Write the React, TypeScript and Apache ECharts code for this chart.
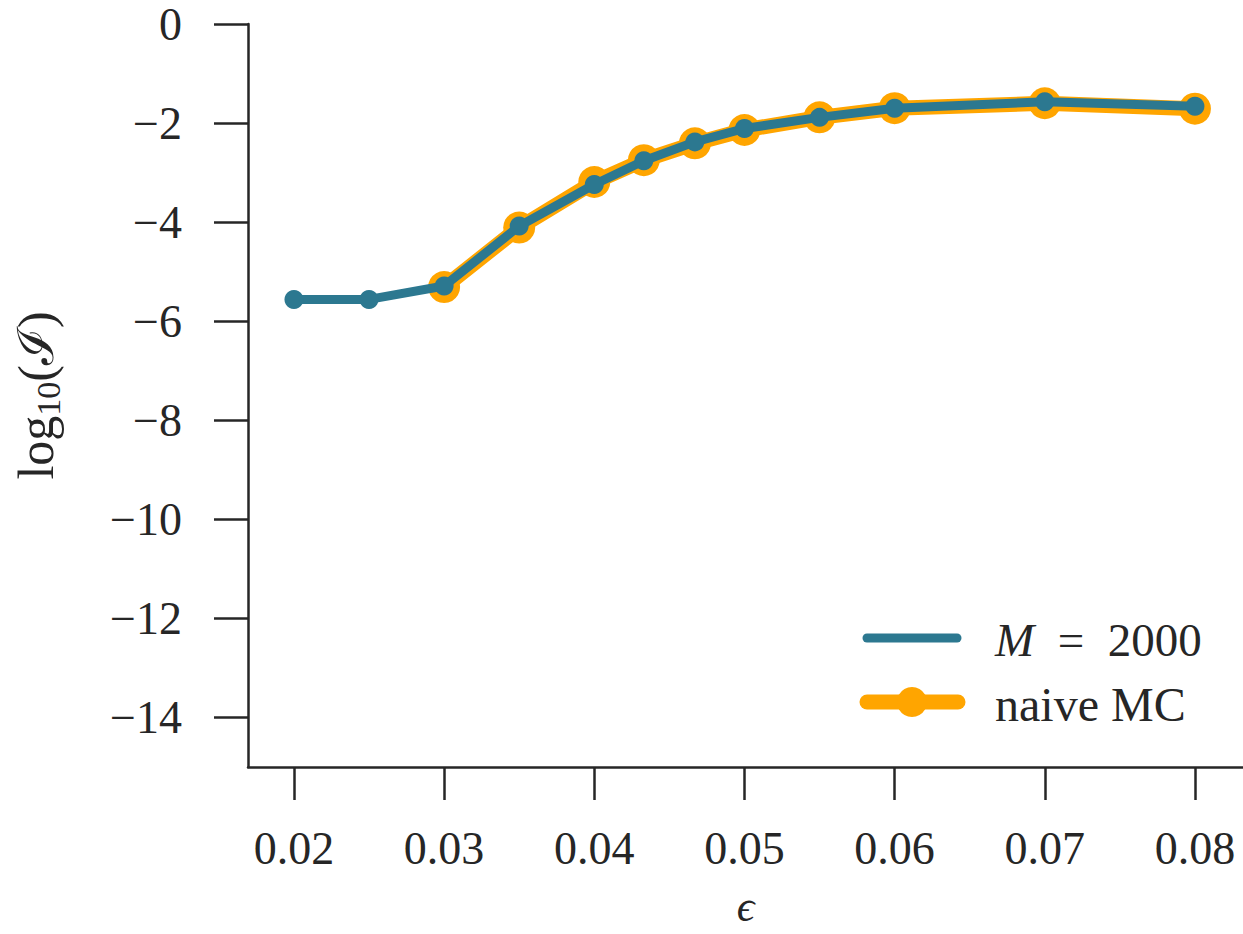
import React, { useEffect, useRef } from "react";
import * as echarts from "echarts";

// epsilon values (x) for each run
const epsM2000 = [0.02, 0.025, 0.03, 0.035, 0.04, 0.0433, 0.0467, 0.05, 0.055, 0.06, 0.07, 0.08];
const logIM2000 = [-5.56, -5.56, -5.29, -4.08, -3.24, -2.76, -2.38, -2.11, -1.885, -1.7, -1.57, -1.66];

const epsNaive = [0.03, 0.035, 0.04, 0.0433, 0.0467, 0.05, 0.055, 0.06, 0.07, 0.08];
const logINaive = [-5.31, -4.11, -3.19, -2.75, -2.41, -2.14, -1.885, -1.7, -1.6, -1.71];

const xTicks = [0.02, 0.03, 0.04, 0.05, 0.06, 0.07, 0.08];
const yTicks = [-14, -12, -10, -8, -6, -4, -2, 0];

const TEAL = "#2c7890";
const ORANGE = "#ffa500";
const INK = "#262626";
const FONT = "'Liberation Serif', 'DejaVu Serif', serif";

const zip = (xs: number[], ys: number[]) => xs.map((x, i) => [x, ys[i]]);

export default function App() {
  const ref = useRef<HTMLDivElement>(null);

  useEffect(() => {
    document.body.style.margin = "0";
    if (!ref.current) return;
    const chart = echarts.init(ref.current, undefined, { renderer: "svg" });

    const fmtY = (v: number) => (v < 0 ? "\u2212" + Math.abs(v) : String(v));

    chart.setOption({
      animation: false,
      backgroundColor: "#ffffff",
      grid: {
        left: 248,
        right: 0,
        top: 24,
        bottom: 167,
        containLabel: false,
        outerBoundsMode: "none",
      },
      xAxis: {
        type: "value",
        min: 0.01694,
        max: 0.0832,
        name: "\u03f5",
        nameLocation: "middle",
        nameGap: 117,
        nameTextStyle: {
          fontFamily: FONT,
          fontSize: 44,
          lineHeight: 44,
          color: INK,
          fontStyle: "italic",
        },
        axisLine: { show: true, onZero: false, lineStyle: { color: INK, width: 2.5 } },
        axisTick: {
          show: true,
          customValues: xTicks,
          length: 33,
          inside: false,
          lineStyle: { color: INK, width: 2.5 },
        },
        axisLabel: {
          customValues: xTicks,
          formatter: (v: number) => v.toFixed(2),
          fontFamily: FONT,
          fontSize: 46,
          color: INK,
          margin: 58,
        },
        splitLine: { show: false },
      },
      yAxis: {
        type: "value",
        min: -15,
        max: 0,
        name: "{a|log}{s|10}{a|(\u2110)}",
        nameLocation: "middle",
        nameRotate: 90,
        nameGap: 180,
        nameTextStyle: {
          color: INK,
          rich: {
            a: { fontFamily: FONT, fontSize: 50, color: INK, lineHeight: 64 },
            s: { fontFamily: FONT, fontSize: 34, color: INK, lineHeight: 64, padding: [24, 0, 0, 0] },
          },
        },
        axisLine: { show: true, onZero: false, lineStyle: { color: INK, width: 2.5 } },
        axisTick: {
          show: true,
          customValues: yTicks,
          length: 34,
          lineStyle: { color: INK, width: 2.5 },
        },
        axisLabel: {
          customValues: yTicks,
          formatter: fmtY,
          fontFamily: FONT,
          fontSize: 46,
          color: INK,
          margin: 66,
        },
        splitLine: { show: false },
      },
      series: [
        {
          name: "naive MC",
          type: "line",
          data: zip(epsNaive, logINaive),
          symbol: "circle",
          symbolSize: 32,
          lineStyle: { color: ORANGE, width: 15 },
          itemStyle: { color: ORANGE },
          z: 2,
        },
        {
          name: "M = 2000",
          type: "line",
          data: zip(epsM2000, logIM2000),
          symbol: "circle",
          symbolSize: 19,
          lineStyle: { color: TEAL, width: 9 },
          itemStyle: { color: TEAL },
          z: 3,
        },
      ],
      graphic: [
        {
          type: "line",
          shape: { x1: 867, y1: 638, x2: 957, y2: 638 },
          style: { stroke: TEAL, lineWidth: 9, lineCap: "round" },
        },
        {
          type: "line",
          shape: { x1: 867, y1: 702, x2: 958, y2: 702 },
          style: { stroke: ORANGE, lineWidth: 15, lineCap: "round" },
        },
        {
          type: "circle",
          shape: { cx: 912, cy: 702, r: 15 },
          style: { fill: ORANGE },
        },
        {
          type: "text",
          x: 995,
          y: 640,
          style: {
            text: "{i|M}  =  2000",
            fill: INK,
            font: `47px ${FONT}`,
            verticalAlign: "middle",
            rich: { i: { fontStyle: "italic", fontFamily: FONT, fontSize: 47, fill: INK } },
          },
        },
        {
          type: "text",
          x: 995,
          y: 704,
          style: { text: "naive MC", fill: INK, font: `48px ${FONT}`, verticalAlign: "middle" },
        },
      ],
    });

    return () => chart.dispose();
  }, []);

  return <div ref={ref} style={{ width: 1243, height: 934 }} />;
}
